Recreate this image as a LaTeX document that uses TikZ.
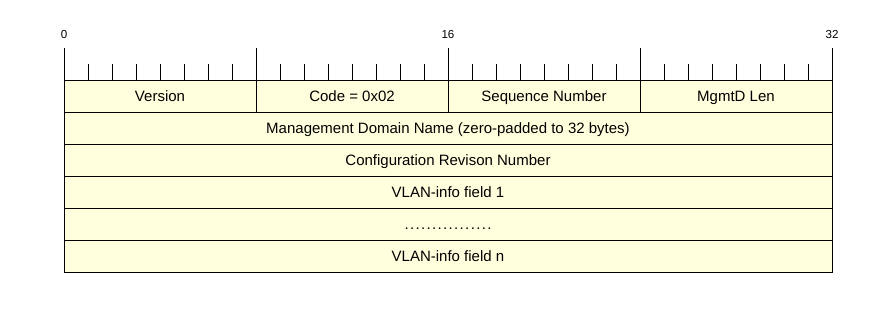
\documentclass[tikz,border=0pt]{standalone}
\usepackage{fontspec}
\setmainfont{Liberation Sans}
\usetikzlibrary{positioning}
\definecolor{fieldfill}{RGB}{255,255,221}

\begin{document}
\begin{tikzpicture}[x=0.5pt, y=-0.5pt, node distance=0pt,
    field/.style={draw, fill=fieldfill, line width=0.5pt, inner sep=0pt, outer sep=0pt,
        minimum height=16pt, text height=7pt, text depth=1.6pt,
        font=\fontsize{7.5}{8}\selectfont},
    quarter/.style={field, minimum width=96pt},
    wide/.style={field, minimum width=384pt},
    bitnum/.style={inner sep=0pt, font=\fontsize{5.8}{6}\selectfont}]
  \useasboundingbox (0,0) rectangle (896,312);
  % bit ruler
  \foreach \b in {1,...,31}
    \draw[line width=0.5pt] (64+24*\b,64) -- (64+24*\b,80);
  \foreach \b in {0,8,...,32}
    \draw[line width=0.5pt] (64+24*\b,48) -- (64+24*\b,80);
  \node[bitnum] (bit0) at (64,35) {0};
  \node[bitnum] (bit16) at (448,35) {16};
  \node[bitnum] (bit32) at (832,35) {32};
  % first word
  \node[quarter, anchor=north west] (version) at (64,80) {Version};
  \node[quarter, right=of version] (code) {Code = 0x02};
  \node[quarter, right=of code] (seqnum) {Sequence Number};
  \node[quarter, right=of seqnum] (mgmtlen) {MgmtD Len};
  % remaining rows
  \node[wide, below=of version.south west, anchor=north west] (domain) {Management Domain Name (zero-padded to 32 bytes)};
  \node[wide, below=of domain] (revision) {Configuration Revison Number};
  \node[wide, below=of revision] (vlan1) {VLAN-info field 1};
  \node[wide, below=of vlan1] (more) {\addfontfeature{LetterSpace=9}................};
  \node[wide, below=of more] (vlann) {VLAN-info field n};
\end{tikzpicture}
\end{document}
